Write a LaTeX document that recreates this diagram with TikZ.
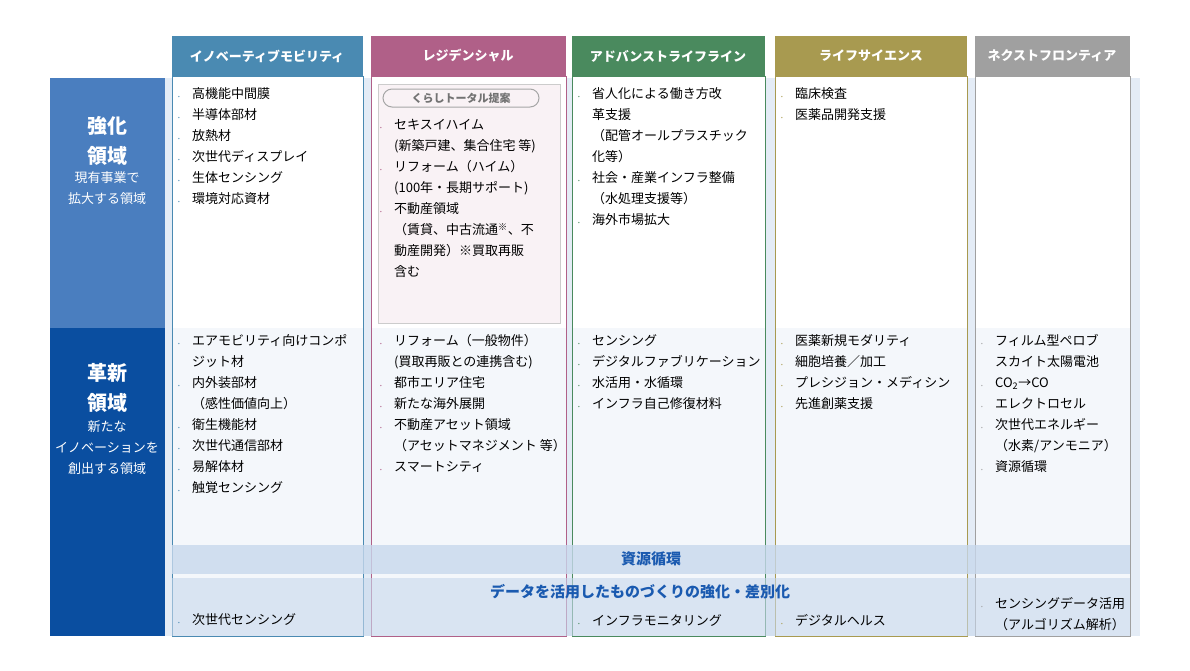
\documentclass[tikz,border=0pt]{standalone}
\usepackage{fontspec}
\setmainfont{Noto Sans CJK JP}
\usetikzlibrary{positioning}
\definecolor{cmob}{HTML}{4A8AB2}
\definecolor{cres}{HTML}{B06088}
\definecolor{cadv}{HTML}{4A8A5E}
\definecolor{clif}{HTML}{A89A50}
\definecolor{cnxt}{HTML}{A0A0A0}
\definecolor{cstr}{HTML}{4A7EBF}
\definecolor{cinn}{HTML}{0A4EA0}
\definecolor{cband}{HTML}{E4ECF6}
\definecolor{cbar}{HTML}{C8D8EC}
\definecolor{ctxt}{HTML}{1A5AB0}
\newcommand{\bl}[1]{\makebox[14pt][l]{\textcolor{#1}{\tiny\textbullet}}}
\newcommand{\ind}{\hspace*{14pt}}
\begin{document}
\begin{tikzpicture}[x=1pt,y=-1pt,
                    every node/.style={font=\fontsize{13}{21}\selectfont},
                    head/.style={font=\fontsize{13}{16}\selectfont\bfseries, text=white, minimum height=40pt, inner sep=0pt},
                    cell/.style={anchor=north west, align=left, inner sep=0pt},
                    sidetitle/.style={text=white, align=center, inner sep=0pt, font=\fontsize{20}{30}\selectfont\bfseries},
                    sidetext/.style={text=white, align=center, inner sep=0pt, font=\fontsize{13}{21}\selectfont}]
    \useasboundingbox (0,0) rectangle (1190,670);
    % background
    \fill[cband] (165,78) rectangle (1140,636);
    \fill[cstr] (50,78) rectangle (165,328);
    \fill[cinn] (50,328) rectangle (165,636);
    % columns
    \foreach \xa/\xb/\col in {172/363/cmob,371/566/cres,572/765/cadv,775/967/clif,975/1130/cnxt}{
        \fill[white!60!cband] (\xa,78) rectangle (\xb,636);
        \fill[white] (\xa,78) rectangle (\xb,328);
        \fill[\col] (\xa,36) rectangle (\xb,76);
        \draw[\col, line width=1pt] (\xa,76) rectangle (\xb,636);
    }
    \fill[cbar, opacity=0.8] (172,545) rectangle (1130,574);
    \fill[cbar, opacity=0.6] (172,578) rectangle (1130,636);
    % headers
    \node (hmob) [head] at (267,56) {イノベーティブモビリティ};
    \node (hres) [head] at (468,56) {レジデンシャル};
    \node (hadv) [head] at (668,56) {アドバンストライフライン};
    \node (hlif) [head] at (871,56) {ライフサイエンス};
    \node (hnxt) [head] at (1052,56) {ネクストフロンティア};
    % side labels
    \node (strtitle) [sidetitle] at (107,141) {強化\\領域};
    \node (strtext)  [sidetext, below=6pt of strtitle] {現有事業で\\拡大する領域};
    \node (inntitle) [sidetitle] at (107,388) {革新\\領域};
    \node (inntext)  [sidetext, below=8pt of inntitle] {新たな\\イノベーションを\\創出する領域};
    % residential box
    \draw[black!20, fill=cres!8] (378,84) rectangle (560,323);
    \node (pill) [draw=black!35, rounded corners=9pt, line width=1pt, minimum width=156pt, minimum height=18pt,
                  inner sep=0pt, font=\fontsize{11}{12}\selectfont\bfseries, text=black!55] at (461,98) {くらしトータル提案};
    % upper row
    \node (mob1) [cell] at (178,87) {\bl{cmob}高機能中間膜\\\bl{cmob}半導体部材\\\bl{cmob}放熱材\\
        \bl{cmob}次世代ディスプレイ\\\bl{cmob}生体センシング\\\bl{cmob}環境対応資材};
    \node (res1) [cell] at (380,119) {\bl{cres}セキスイハイム\\\ind(新築戸建、集合住宅 等)\\
        \bl{cres}リフォーム（ハイム）\\\ind(100年・長期サポート)\\\bl{cres}不動産領域\\
        \ind（賃貸、中古流通\textsuperscript{※}、不\\\ind 動産開発）※買取再販\\\ind 含む};
    \node (adv1) [cell] at (578,87) {\bl{cadv}省人化による働き方改\\\ind 革支援\\\ind（配管オールプラスチック\\
        \ind 化等）\\\bl{cadv}社会・産業インフラ整備\\\ind（水処理支援等）\\\bl{cadv}海外市場拡大};
    \node (lif1) [cell] at (781,87) {\bl{clif}臨床検査\\\bl{clif}医薬品開発支援};
    % lower row
    \node (mob2) [cell] at (178,334) {\bl{cmob}エアモビリティ向けコンポ\\\ind ジット材\\\bl{cmob}内外装部材\\
        \ind（感性価値向上）\\\bl{cmob}衛生機能材\\\bl{cmob}次世代通信部材\\\bl{cmob}易解体材\\\bl{cmob}触覚センシング};
    \node (res2) [cell] at (380,334) {\bl{cres}リフォーム（一般物件）\\\ind(買取再販との連携含む)\\
        \bl{cres}都市エリア住宅\\\bl{cres}新たな海外展開\\\bl{cres}不動産アセット領域\\
        \ind（アセットマネジメント 等）\\\bl{cres}スマートシティ};
    \node (adv2) [cell] at (578,334) {\bl{cadv}センシング\\\bl{cadv}デジタルファブリケーション\\
        \bl{cadv}水活用・水循環\\\bl{cadv}インフラ自己修復材料};
    \node (lif2) [cell] at (781,334) {\bl{clif}医薬新規モダリティ\\\bl{clif}細胞培養／加工\\
        \bl{clif}プレシジョン・メディシン\\\bl{clif}先進創薬支援};
    \node (nxt2) [cell] at (981,334) {\bl{cnxt}フィルム型ペロブ\\\ind スカイト太陽電池\\\bl{cnxt}CO\textsubscript{2}→CO\\
        \bl{cnxt}エレクトロセル\\\bl{cnxt}次世代エネルギー\\\ind（水素/アンモニア）\\\bl{cnxt}資源循環};
    % bands
    \node (band1) [font=\fontsize{15}{18}\selectfont\bfseries, text=ctxt] at (651,559) {資源循環};
    \node (band2) [font=\fontsize{15}{18}\selectfont\bfseries, text=ctxt] at (640,592) {データを活用したものづくりの強化・差別化};
    \node (mob3) [cell, anchor=west] at (178,620) {\bl{cmob}次世代センシング};
    \node (adv3) [cell, anchor=west] at (578,620) {\bl{cadv}インフラモニタリング};
    \node (lif3) [cell, anchor=west] at (781,620) {\bl{clif}デジタルヘルス};
    \node (nxt3) [cell, anchor=west] at (981,614) {\bl{cnxt}センシングデータ活用\\\ind（アルゴリズム解析）};
\end{tikzpicture}
\end{document}
